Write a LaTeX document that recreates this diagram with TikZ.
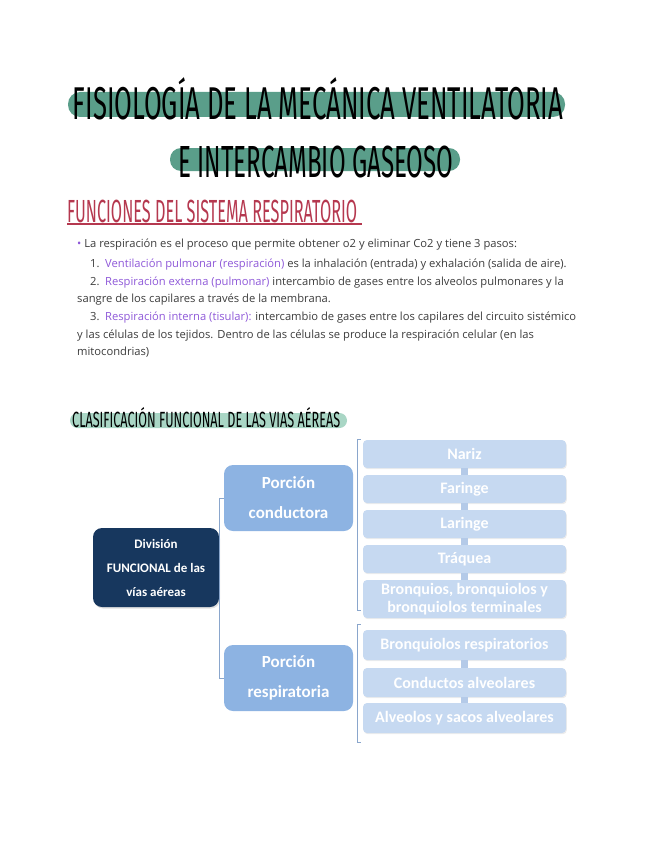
\documentclass[tikz,border=0pt]{standalone}
\usepackage{fontspec}
\usepackage{graphicx}
\setmainfont{Open Sans}
\newfontfamily\headfont{Fira Sans}
\newfontfamily\boxfont{Carlito}
\usetikzlibrary{shadows}
\definecolor{hlgreen}{HTML}{5A9E8A}
\definecolor{hllight}{HTML}{A9D6C5}
\definecolor{headred}{HTML}{B5384F}
\definecolor{stepviolet}{HTML}{8E58D8}
\definecolor{bodygray}{HTML}{3C3C3C}
\definecolor{navybox}{HTML}{17375E}
\definecolor{midblue}{HTML}{8DB3E2}
\definecolor{paleblue}{HTML}{C6D9F1}
\definecolor{linkblue}{HTML}{8AA6CC}
\definecolor{knobblue}{HTML}{B4CAE8}
\begin{document}
\begin{tikzpicture}[x=1pt,y=-1pt,
  bar/.style={fill=hlgreen},
  body/.style={anchor=base west,inner sep=0,text=bodygray,font=\fontsize{11.2}{13}\selectfont},
  rootbox/.style={fill=navybox,rounded corners=9pt,text=white,align=center,
    minimum width=126pt,minimum height=79pt,inner sep=0,
    font=\boxfont\bfseries\fontsize{13}{24}\selectfont,
    drop shadow={opacity=.25,shadow xshift=1pt,shadow yshift=-1.5pt}},
  partbox/.style={fill=midblue,rounded corners=9pt,text=white,align=center,
    minimum width=129pt,minimum height=66pt,inner sep=0,
    font=\boxfont\bfseries\fontsize{17}{30}\selectfont},
  itembox/.style={fill=paleblue,rounded corners=4pt,text=white,align=center,
    minimum width=203pt,inner sep=0,
    font=\boxfont\bfseries\fontsize{16}{18}\selectfont,
    drop shadow={opacity=.15,shadow xshift=.8pt,shadow yshift=-1.2pt}},
  link/.style={draw=linkblue,line width=.8pt},
  knob/.style={draw=knobblue,line width=7pt}]
\useasboundingbox (0,0) rectangle (648,848);

% titulo
\fill[bar,rounded corners=12pt] (68,92) rectangle (565,117);
\fill[bar,rounded corners=11pt] (170,148) rectangle (460,171);
\node[anchor=base,inner sep=0] (title1) at (318,120)
  {\resizebox{490pt}{\height}{\headfont\fontsize{46}{46}\selectfont FISIOLOGÍA DE LA MECÁNICA VENTILATORIA}};
\node[anchor=base,inner sep=0] (title2) at (316,177)
  {\resizebox{275pt}{\height}{\headfont\fontsize{45}{45}\selectfont E INTERCAMBIO GASEOSO}};

% funciones
\node[anchor=base west,inner sep=0,text=headred] (funciones) at (67,222)
  {\resizebox{290pt}{\height}{\headfont\fontsize{32}{32}\selectfont FUNCIONES DEL SISTEMA RESPIRATORIO}};
\draw[headred,line width=1.2pt] ([yshift=-2pt]funciones.base west) -- ([xshift=5pt,yshift=-2pt]funciones.base east);

\node[body] (l1) at (77,247) {\textcolor{stepviolet}{•} La respiración es el proceso que permite obtener o2 y eliminar Co2 y tiene 3 pasos:};
\node[body] (l2) at (90,267) {1.\enspace\textcolor{stepviolet}{Ventilación pulmonar (respiración)} es la inhalación (entrada) y exhalación (salida de aire).};
\node[body] (l3) at (90,285) {2.\enspace\textcolor{stepviolet}{Respiración externa (pulmonar)} intercambio de gases entre los alveolos pulmonares y la};
\node[body] (l4) at (77,302) {sangre de los capilares a través de la membrana.};
\node[body] (l5) at (90,320) {3.\enspace\textcolor{stepviolet}{Respiración interna (tisular):} intercambio de gases entre los capilares del circuito sistémico};
\node[body] (l6) at (77,338) {y las células de los tejidos. Dentro de las células se produce la respiración celular (en las};
\node[body] (l7) at (77,355) {mitocondrias)};

% clasificacion
\fill[hllight,rounded corners=7.5pt] (70,413) rectangle (347,428);
\node[anchor=base west,inner sep=0] (clasif) at (72,427)
  {\resizebox{268pt}{\height}{\headfont\fontsize{22}{22}\selectfont CLASIFICACIÓN FUNCIONAL DE LAS VIAS AÉREAS}};

% esquema
\node[rootbox] (root) at (156,567.5) {División\\FUNCIONAL de las\\vías aéreas};
\node[partbox] (pc) at (288.5,498) {Porción\\conductora};
\node[partbox] (pr) at (288.5,678) {Porción\\respiratoria};
\draw[link] (pc.west) -- ++(-4,0) |- (pr.west);

\node[itembox,minimum height=28pt] (nariz) at (464.5,454) {Nariz};
\node[itembox,minimum height=28pt] (faringe) at (464.5,489) {Faringe};
\node[itembox,minimum height=28pt] (laringe) at (464.5,524) {Laringe};
\node[itembox,minimum height=28pt] (traquea) at (464.5,559) {Tráquea};
\node[itembox,minimum height=38pt] (bronq) at (464.5,599) {Bronquios, bronquiolos y\\bronquiolos terminales};
\node[itembox,minimum height=30pt] (bresp) at (464.5,645) {Bronquiolos respiratorios};
\node[itembox,minimum height=29pt] (conduc) at (464.5,682.5) {Conductos alveolares};
\node[itembox,minimum height=30pt] (alveo) at (464.5,718) {Alveolos y sacos alveolares};

\draw[knob] (nariz.south) -- (faringe.north);
\draw[knob] (faringe.south) -- (laringe.north);
\draw[knob] (laringe.south) -- (traquea.north);
\draw[knob] (traquea.south) -- (bronq.north);
\draw[knob] (bresp.south) -- (conduc.north);
\draw[knob] (conduc.south) -- (alveo.north);

\draw[link] ([xshift=-2pt]nariz.north west) -- ++(-3,0) |- ([xshift=-2pt,yshift=8pt]bronq.south west);
\draw[link] ([xshift=-2pt,yshift=5pt]bresp.north west) -- ++(-3,0) |- ([xshift=-2pt,yshift=-9pt]alveo.south west);
\end{tikzpicture}
\end{document}
